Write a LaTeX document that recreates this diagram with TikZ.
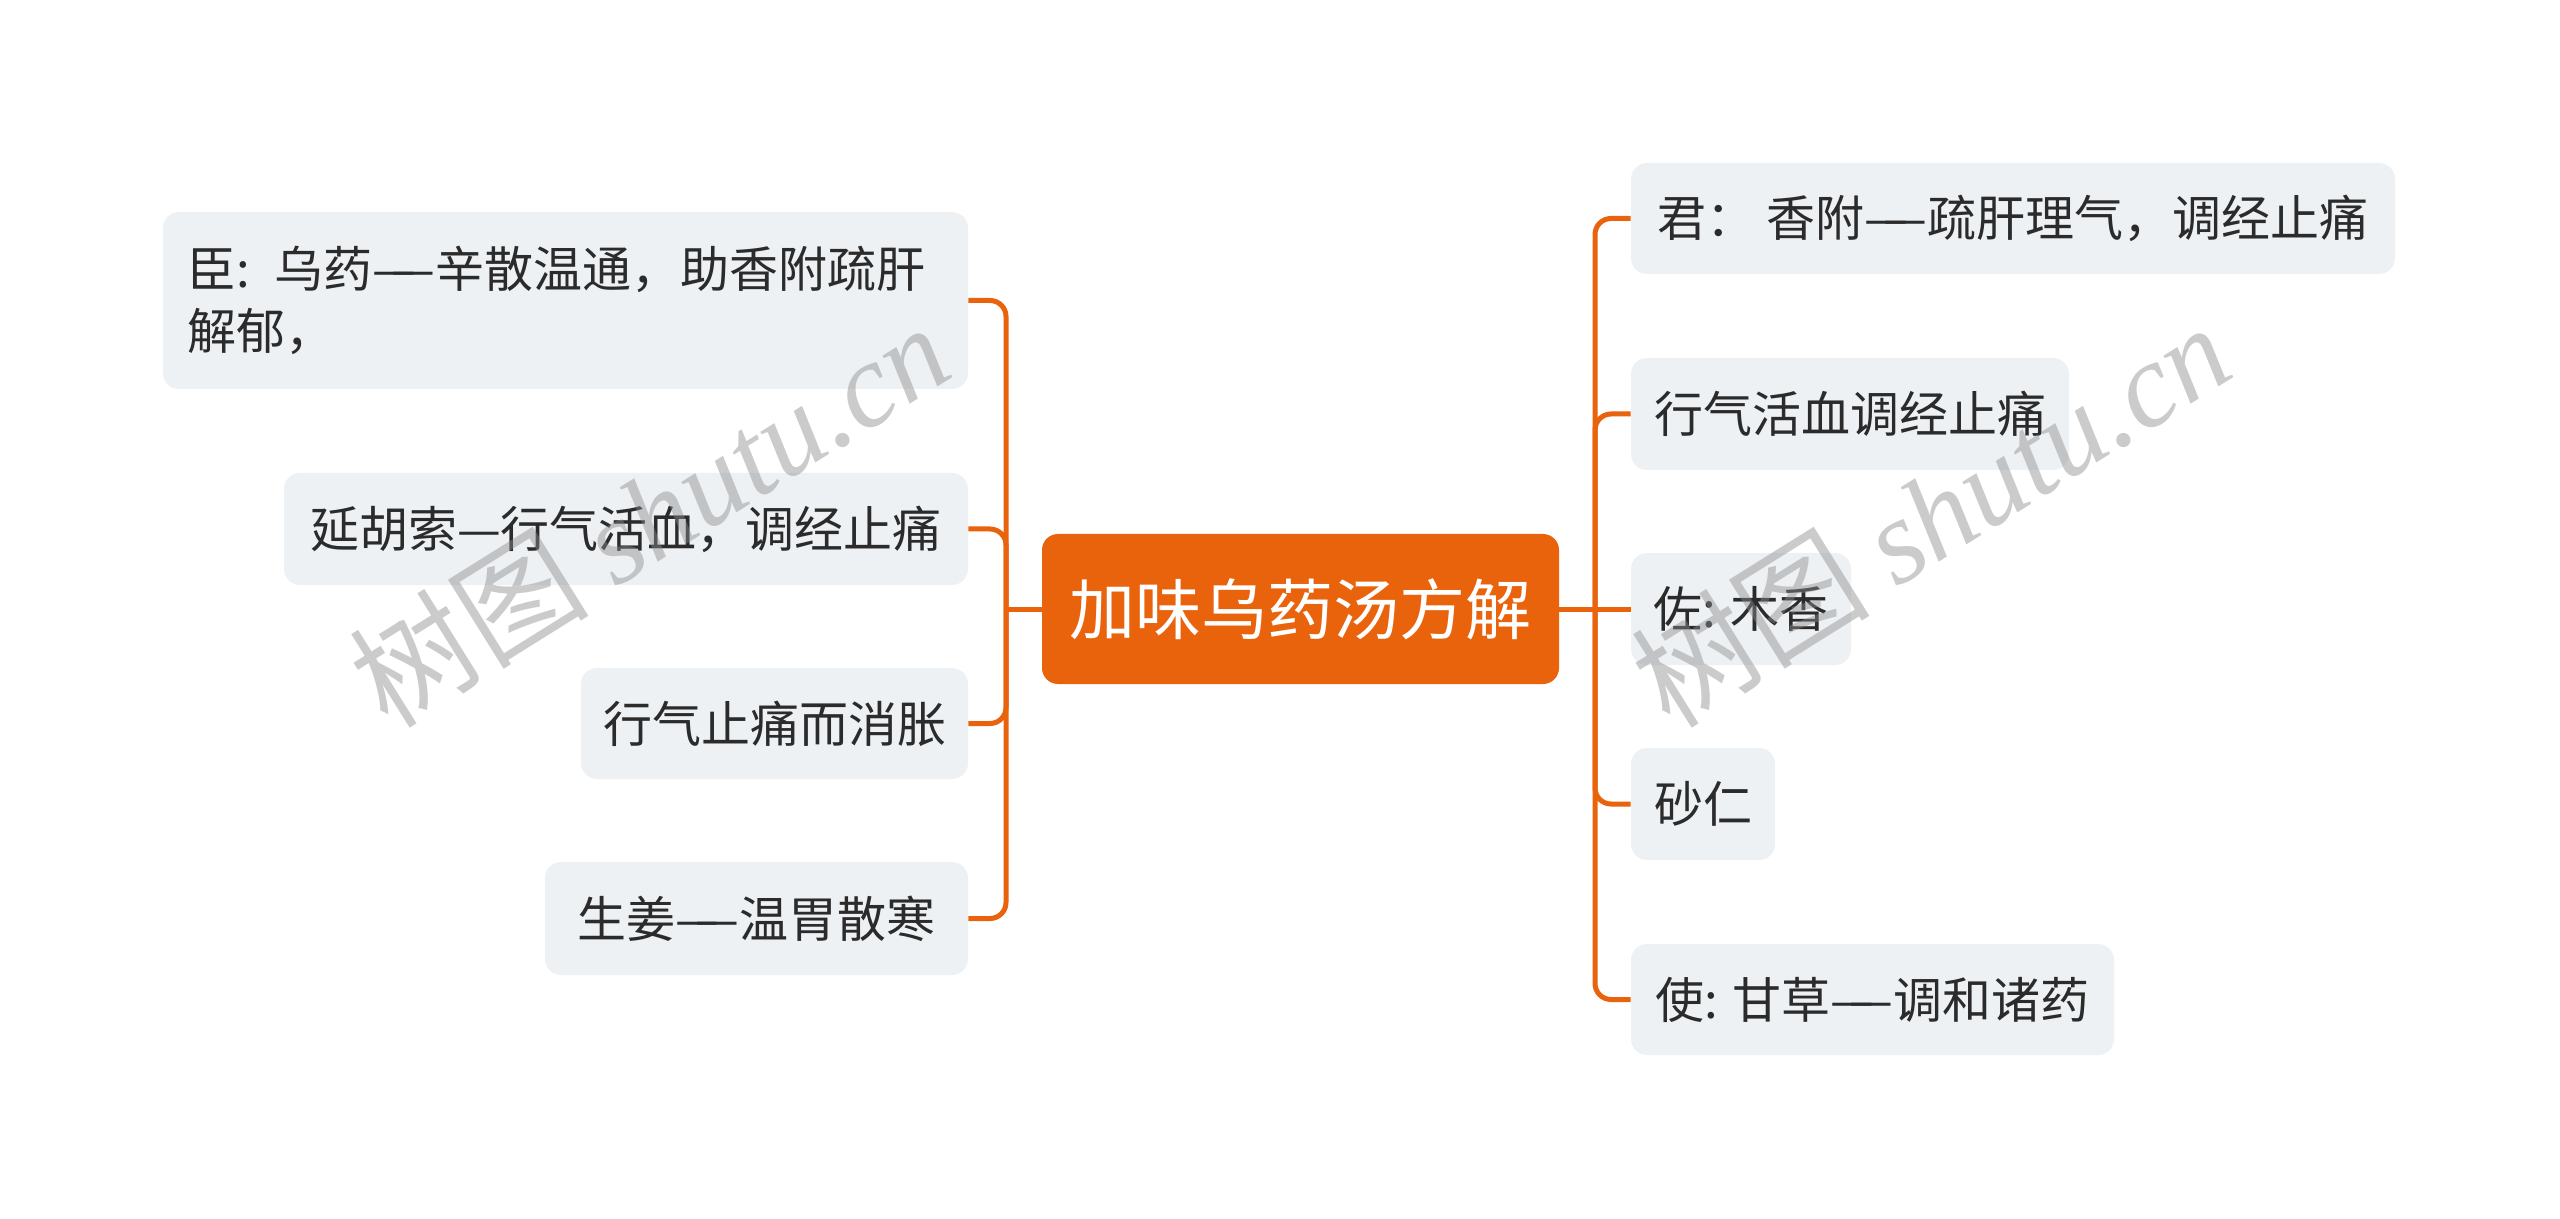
\documentclass[tikz,border=0pt]{standalone}
\usepackage{fontspec}
\setmainfont{Noto Sans CJK SC}
\newfontfamily\wmserif{Liberation Serif}
\definecolor{brand}{HTML}{E9620C}
\definecolor{leafgray}{HTML}{EEF1F4}
\definecolor{textdark}{HTML}{2B2B2B}
\newcommand{\ldash}{—\kern-0.5em—}
\begin{document}
\begin{tikzpicture}[x=0.5pt,y=0.5pt,
  leaf/.style={fill=leafgray, rounded corners=8pt, text=textdark, inner sep=0pt,
    font=\fontsize{24.5pt}{31pt}\selectfont},
  rootbox/.style={fill=brand, rounded corners=8pt, text=white, inner sep=0pt,
    font=\fontsize{33pt}{40pt}\selectfont},
  edge/.style={draw=brand, line width=2.5pt, rounded corners=8pt},
  wm/.style={rotate=32, text=black!45, opacity=0.45, font=\fontsize{60pt}{62pt}\selectfont}]
\useasboundingbox (0,0) rectangle (2560,-1219);
\fill[white] (0,0) rectangle (2560,-1219);

% root
\node[rootbox, minimum width=258.5pt, minimum height=75pt] (root) at (1300.5,-609) {加味乌药汤方解};

% left children
\node[leaf, minimum width=402.5pt, minimum height=88.5pt, text width=378pt, align=left] (L1) at (565.5,-300.5) {臣: 乌药\ldash 辛散温通，助香附疏肝\\解郁，};
\node[leaf, minimum width=342pt, minimum height=56pt] (L2) at (626,-529) {延胡索—行气活血，调经止痛};
\node[leaf, minimum width=193.5pt, minimum height=55.5pt] (L3) at (774.5,-723.5) {行气止痛而消胀};
\node[leaf, minimum width=211.5pt, minimum height=56.5pt] (L4) at (756.5,-918.5) {生姜\ldash 温胃散寒};

% right children
\node[leaf, minimum width=382pt, minimum height=55.5pt] (R1) at (2013,-218.5) {君： 香附\ldash 疏肝理气，调经止痛};
\node[leaf, minimum width=219pt, minimum height=56pt] (R2) at (1850,-414) {行气活血调经止痛};
\node[leaf, minimum width=110pt, minimum height=56pt] (R3) at (1741,-609) {佐: 木香};
\node[leaf, minimum width=72pt, minimum height=56pt] (R4) at (1703,-804) {砂仁};
\node[leaf, minimum width=241.5pt, minimum height=55.5pt] (R5) at (1872.5,-999.5) {使: 甘草\ldash 调和诸药};

% buses
\coordinate (lbus) at (1006,-609);
\coordinate (rbus) at (1595,-609);

\draw[edge, line cap=rect] (root.west) -- (lbus);
\foreach \c in {L1,L2,L3,L4} \draw[edge] (lbus) |- (\c.east);

\draw[edge, line cap=rect] (root.east) -- (rbus);
\foreach \c in {R1,R2,R4,R5} \draw[edge] (rbus) |- (\c.west);
\draw[edge] (rbus) -- (R3.west);

% watermarks
\node[wm] (wm1) at (649,-514) {树图 {\wmserif\itshape shutu.cn}};
\node[wm] (wm2) at (1930,-514) {树图 {\wmserif\itshape shutu.cn}};
\end{tikzpicture}
\end{document}
